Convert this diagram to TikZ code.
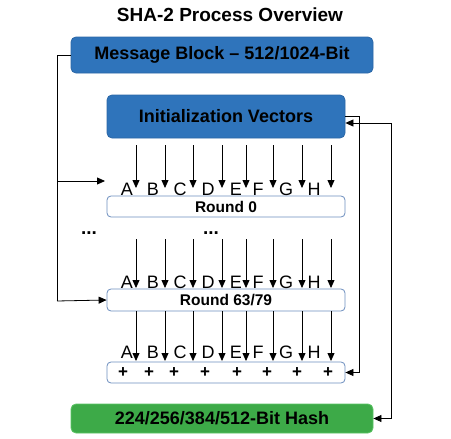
\documentclass[tikz,border=0pt]{standalone}
\usepackage{fontspec}
\setmainfont{Liberation Sans}
\usepackage{tikz}
\usetikzlibrary{arrows.meta}
\usepackage{xcolor}
\definecolor{shablue}{HTML}{2F74BB}
\definecolor{shablueline}{HTML}{2A66A6}
\definecolor{shagreen}{HTML}{3DAA48}
\definecolor{shagreenline}{HTML}{5CC465}
\definecolor{roundline}{HTML}{6C8EBF}

\tikzset{
    bluebox/.style={draw=shablueline, fill=shablue, rounded corners=5pt, font=\bfseries\fontsize{18}{20}\selectfont},
    greenbox/.style={draw=shagreenline, fill=shagreen, rounded corners=5pt, minimum width=302pt, minimum height=29pt, font=\bfseries\fontsize{18}{20}\selectfont},
    roundbox/.style={draw=roundline, fill=white, rounded corners=4pt, minimum width=238pt, inner sep=0pt, font=\bfseries\fontsize{15.5}{17}\selectfont},
    letter/.style={font=\fontsize{18}{20}\selectfont, inner sep=0pt},
    plussign/.style={font=\bfseries\fontsize{17}{19}\selectfont, inner sep=0pt},
    dots/.style={font=\bfseries\fontsize{19}{21}\selectfont, inner sep=0pt},
    >={Triangle[length=8pt,width=7pt]}
}

\begin{document}
\begin{tikzpicture}[x=1pt, y=-1pt, line width=0.8pt]
    \useasboundingbox (0,0) rectangle (451,439);

    % Title
    \node[font=\bfseries\fontsize{19}{21}\selectfont] (title) at (230,15) {SHA-2 Process Overview};

    % Main boxes
    \node[bluebox, minimum width=302pt, minimum height=36pt] (msg) at (222,55) {Message Block -- 512/1024-Bit};
    \node[bluebox, minimum width=238pt, minimum height=43pt] (iv) at (226,116.5) {Initialization Vectors};
    \node[roundbox, minimum height=21pt] (round0) at (226,206.5) {Round 0};
    \node[roundbox, minimum height=22pt] (round63) at (226,300) {Round 63/79};
    \node[roundbox, minimum height=21pt] (plus) at (226,372.5) {};
    \node[greenbox] (hash) at (222,418.5) {224/256/384/512-Bit Hash};

    % Dots between rounds
    \node[dots] (dotsl) at (89,233) {...};
    \node[dots] (dotsm) at (211,233) {...};

    % Working variables A..H with arrows into each stage
    \foreach \x/\lx/\px/\l [count=\i] in {136/127/123/A, 165/153/149/B, 193/180/174/C, 222/208/205/D, 246/236/237/E, 273/258/267/F, 302/286/297/G, 331/314/328/H} {
        \node[letter] (a\i) at (\lx,189) {\l};
        \node[letter] (b\i) at (\lx,282) {\l};
        \node[letter] (c\i) at (\lx,352) {\l};
        \node[plussign] (p\i) at (\px,373) {+};
        \coordinate (s\i) at (\x,145);
        \coordinate (e\i) at (\x,188);
        \coordinate (u\i) at (\x,239);
        \coordinate (v\i) at (\x,288);
        \coordinate (w\i) at (\x,311);
        \coordinate (z\i) at (\x,361);
        \draw[->] (s\i) -- (e\i);
        \draw[->] (u\i) -- (v\i);
        \draw[->] (w\i) -- (z\i);
    }

    % Message schedule into the rounds
    \coordinate (left0) at (105,181);
    \draw (msg.west) -| (57,301) edge[->] (round63.west);
    \draw[->] (57,181) -- (left0);

    % Feed-forward and chaining
    \draw[->] (iv.east) -| (359,372.5) -- (plus.east);
    \draw[<->] ([yshift=-6.5pt]iv.east) -| (391,418.5) -- (hash.east);
\end{tikzpicture}
\end{document}
